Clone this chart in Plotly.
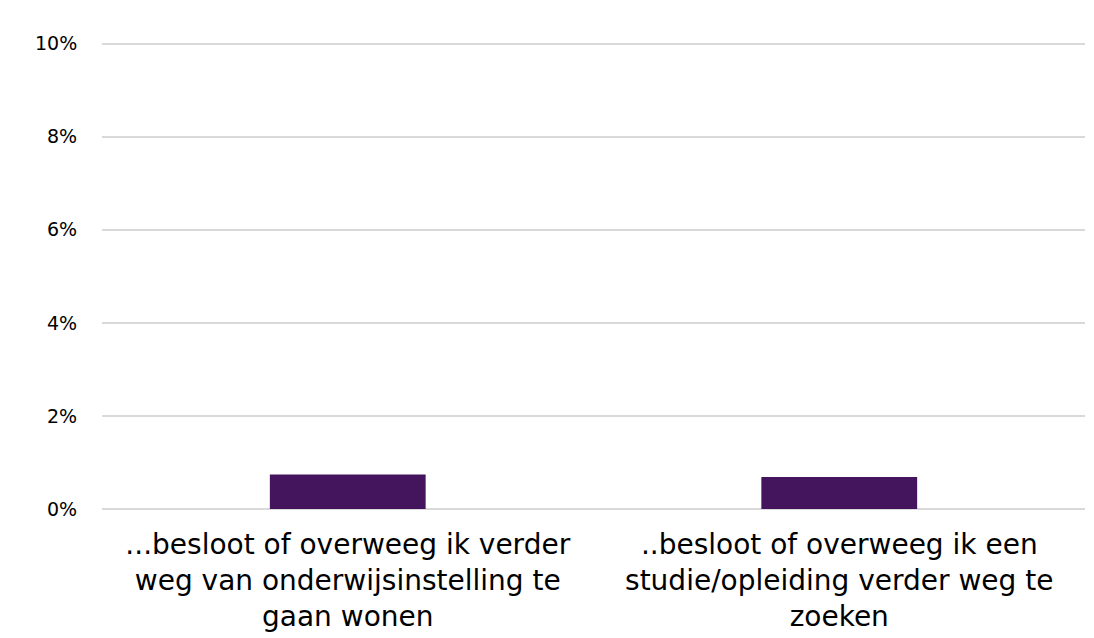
import plotly.graph_objects as go

# Share of respondents per statement (percent)
categories = [
    "...besloot of overweeg ik verder<br>weg van onderwijsinstelling te<br>gaan wonen",
    "..besloot of overweeg ik een<br>studie/opleiding verder weg te<br>zoeken",
]
values = [0.74, 0.69]
tick_vals = [0, 2, 4, 6, 8, 10]
tick_text = ["0%", "2%", "4%", "6%", "8%", "10%"]

fig = go.Figure(
    go.Bar(
        x=categories,
        y=values,
        marker=dict(color="#44155C", line=dict(width=0)),
        width=0.317,
        hoverinfo="skip",
    )
)

fig.update_layout(
    width=1094,
    height=638,
    margin=dict(l=102, r=9, t=39, b=129, pad=0),
    paper_bgcolor="white",
    plot_bgcolor="white",
    font=dict(family="DejaVu Sans, Verdana, sans-serif", color="#000000"),
    showlegend=False,
)

fig.update_xaxes(
    tickfont=dict(size=28),
    showgrid=False,
    showline=False,
    ticks="outside",
    ticklen=10,
    tickcolor="rgba(0,0,0,0)",
    automargin=False,
)

fig.update_yaxes(
    range=[0, 10.1],
    tickvals=tick_vals,
    ticktext=tick_text,
    tickfont=dict(size=19),
    showgrid=True,
    gridcolor="#D9D9D9",
    gridwidth=1.5,
    zeroline=True,
    zerolinecolor="#D9D9D9",
    zerolinewidth=2,
    ticks="outside",
    ticklen=20,
    tickcolor="rgba(0,0,0,0)",
    showline=False,
    automargin=False,
)

fig.write_html("out.html")
